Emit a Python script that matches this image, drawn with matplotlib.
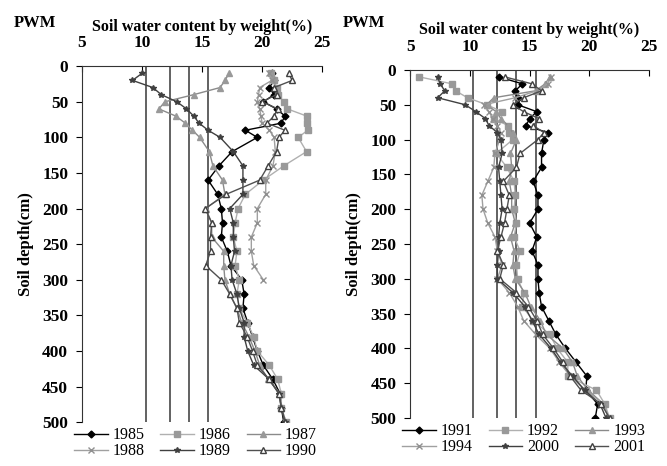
import matplotlib
matplotlib.use('Agg')
import matplotlib.pyplot as plt

plt.rcParams['font.family'] = ['Liberation Serif', 'DejaVu Serif']

# sampling depths (cm)
depth = [10, 20, 30, 40, 50, 60, 70, 80, 90, 100,
         120, 140, 160, 180, 200, 220, 240, 260, 280, 300,
         320, 340, 360, 380, 400, 420, 440, 460, 480, 500]

pwm = [10.3, 12.3, 13.9, 15.5]

# left panel: 1985-1990
y1985 = [20.8, 21.0, 20.6, 21.0, 20.1, 21.2, 21.9, 21.6, 18.6, 19.6,
         17.5, 16.4, 15.5, 16.3, 16.6, 16.7, 16.6, 17.1, 17.4, 18.3,
         18.5, 18.4, 18.8, 19.2, 19.6, 20.1, 20.9, 21.5, 21.6, 21.8]
y1986 = [20.7, 21.0, 21.2, 21.3, 21.8, 22.1, 23.7, 23.7, 23.8, 23.0,
         23.7, 21.8, 20.1, 18.6, 18.0, 17.75, 17.6, 17.9, 17.75, 18.1,
         17.9, 18.1, 18.75, 19.3, 19.6, 20.6, 21.3, 21.6, 21.6, 22.0]
y1987 = [17.25, 16.9, 16.5, 14.3, 11.9, 11.4, 12.8, 13.6, 14.2, 14.8,
         15.6, 15.9, 16.7, 16.9, 15.3, 15.8, 15.8, 16.8, 16.8, 16.9,
         17.3, 17.9, 18.3, 18.9, 19.4, 19.8, 20.5, 21.5, 21.6, 22.0]
y1988 = [20.6, 20.8, 19.8, 19.7, 19.6, 19.8, 19.9, 20.0, 20.6, 21.0,
         21.1, 20.9, 20.3, 20.3, 19.6, 19.6, 19.1, 19.1, 19.3, 20.1]
y1989 = [10.0, 9.2, 10.9, 11.6, 12.9, 13.7, 14.3, 14.75, 15.5, 16.5,
         17.6, 18.4, 18.4, 18.4, 17.3, 17.6, 17.6, 17.7, 17.4, 17.5,
         17.9, 18.1, 18.5, 18.5, 18.8, 19.3, 20.6, 21.4, 21.6, 21.9]
y1990 = [22.2, 22.5, 21.0, 21.2, 20.0, 21.3, 21.0, 20.4, 21.9, 21.4,
         21.2, 20.5, 19.8, 17.0, 15.25, 15.8, 15.7, 15.7, 15.3, 16.6,
         17.3, 17.9, 18.1, 18.75, 19.2, 19.6, 20.6, 21.4, 21.6, 21.9]

# right panel: 1991-2001
y1991 = [12.4, 14.4, 13.8, 14.0, 14.0, 15.6, 15.0, 14.7, 16.5, 16.2,
         16.0, 16.0, 15.3, 15.7, 15.7, 15.0, 15.6, 15.2, 15.7, 15.7,
         15.8, 16.0, 16.6, 17.2, 18.0, 18.9, 19.8, 19.7, 20.7, 20.5]
y1992 = [5.75, 8.5, 8.8, 9.8, 11.4, 12.7, 12.0, 13.2, 13.3, 13.6,
         12.2, 13.1, 13.7, 13.8, 13.7, 13.9, 13.7, 14.2, 13.9, 14.0,
         14.5, 14.4, 15.3, 16.7, 17.3, 18.2, 18.2, 20.6, 21.3, 21.7]
y1993 = [16.7, 16.3, 15.5, 12.0, 11.4, 12.2, 12.6, 13.2, 13.6, 13.9,
         13.4, 13.5, 13.3, 13.5, 13.5, 13.8, 13.4, 13.7, 13.6, 13.8,
         14.6, 15.1, 15.9, 16.4, 17.8, 18.6, 19.0, 19.9, 21.2, 21.6]
y1994 = [16.8, 16.5, 15.6, 13.8, 11.2, 11.6, 11.9, 12.3, 12.6, 12.5,
         12.1, 12.0, 11.5, 11.0, 11.1, 11.5, 12.1, 12.3, 12.7, 12.3,
         13.3, 14.0, 14.5, 15.5, 16.7, 17.5, 18.4, 19.7, 21.2, 21.6]
y2000 = [7.3, 7.5, 7.9, 7.3, 9.6, 10.5, 11.3, 11.6, 12.3, 12.6,
         12.7, 12.4, 12.5, 12.6, 12.7, 12.5, 12.4, 12.4, 12.3, 12.3,
         13.6, 14.6, 15.2, 15.8, 16.8, 17.6, 18.6, 19.6, 20.9, 21.4]
y2001 = [12.9, 15.2, 16.0, 14.5, 13.6, 14.5, 15.8, 15.3, 16.2, 15.7,
         14.2, 13.9, 12.8, 13.3, 13.1, 12.9, 12.6, 12.3, 12.8, 12.5,
         13.9, 14.9, 15.6, 16.1, 17.0, 17.8, 18.4, 19.3, 21.0, 21.7]

# one style per position in each panel
styles = [
    dict(color='black', marker='D', ms=3.5, mfc='black', mec='black'),
    dict(color='#b0b0b0', marker='s', ms=4.5, mfc='#999999', mec='#999999'),
    dict(color='#8a8a8a', marker='^', ms=5, mfc='#999999', mec='#999999'),
    dict(color='#a0a0a0', marker='x', ms=4, mfc='#a0a0a0', mec='#909090'),
    dict(color='#404040', marker='*', ms=4, mfc='#404040', mec='#404040'),
    dict(color='#505050', marker='^', ms=5, mfc='white', mec='#404040'),
]

left = [('1985', y1985), ('1986', y1986), ('1987', y1987),
        ('1988', y1988), ('1989', y1989), ('1990', y1990)]
right = [('1991', y1991), ('1992', y1992), ('1993', y1993),
         ('1994', y1994), ('2000', y2000), ('2001', y2001)]

fig = plt.figure(figsize=(6.67, 4.66), dpi=100)
ax1 = fig.add_axes([0.123, 0.094, 0.360, 0.764])
ax2 = fig.add_axes([0.615, 0.103, 0.358, 0.747])

for ax, series in [(ax1, left), (ax2, right)]:
    ax.vlines(pwm, 0, 500, color='#555555', lw=1.3, zorder=1)
    handles = []
    for (name, vals), st in zip(series, styles):
        h, = ax.plot(vals, depth[:len(vals)], lw=1, label=name, zorder=3, **st)
        handles.append(h)
    ax.set_xlim(5, 25)
    ax.set_ylim(500, 0)
    ax.set_xticks([5, 10, 15, 20, 25])
    ax.set_yticks(range(0, 501, 50))
    ax.xaxis.tick_top()
    ax.xaxis.set_label_position('top')
    ax.spines['right'].set_visible(False)
    ax.spines['bottom'].set_visible(False)
    ax.spines['left'].set_color('#333333')
    ax.spines['top'].set_color('#333333')
    ax.tick_params(axis='x', direction='in', length=4, labelsize=12.5, pad=11)
    ax.tick_params(axis='y', direction='out', length=4, labelsize=12.5, pad=6)
    for lab in ax.get_xticklabels() + ax.get_yticklabels():
        lab.set_fontweight('bold')
    ax.set_xlabel('Soil water content by weight(%)', fontsize=11.5,
                  fontweight='bold', labelpad=3)
    ax.set_ylabel('Soil depth(cm)', fontsize=12, fontweight='bold', labelpad=6)
    # legend filled row by row: 3 columns, 2 rows
    order = [0, 3, 1, 4, 2, 5]
    hs = [handles[i] for i in order]
    ax.legend(hs, [h.get_label() for h in hs], loc='upper left',
              bbox_to_anchor=(-0.07, 0.01), ncol=3,
              frameon=False, fontsize=11.5, handlelength=2.1, handletextpad=0.3,
              columnspacing=1.0, labelspacing=0.0, borderpad=0.05)

fig.text(0.052, 0.951, 'PWM', fontsize=12, fontweight='bold', ha='center', va='center')
fig.text(0.546, 0.951, 'PWM', fontsize=12, fontweight='bold', ha='center', va='center')

fig.savefig('out.png', dpi=100)
